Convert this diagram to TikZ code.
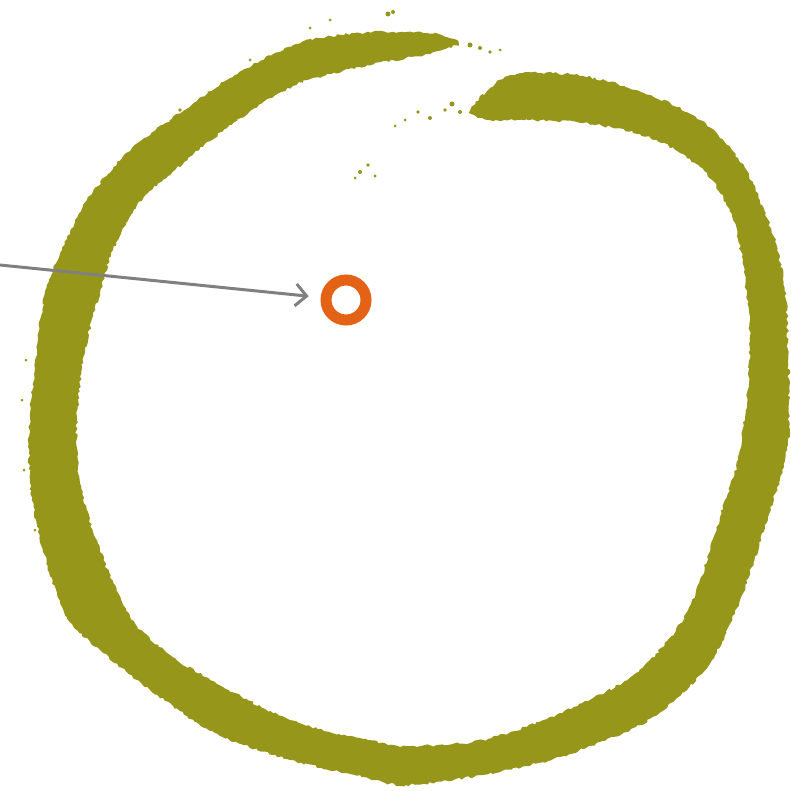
\documentclass[tikz,border=0pt]{standalone}
\usetikzlibrary{arrows.meta,decorations.pathmorphing}
\definecolor{olive}{RGB}{150,150,26}
\definecolor{orng}{RGB}{228,98,22}
\definecolor{arrgray}{RGB}{128,128,128}
\tikzset{
  brush/.style={fill=olive, draw=none, decorate, decoration={random steps, segment length=3pt, amplitude=1.3pt}},
  smallring/.style={circle, draw=orng, line width=11pt, minimum size=40pt, inner sep=0pt},
  pointer/.style={draw=arrgray, line width=3pt, -{Straight Barb[length=11pt,width=22pt,line width=3pt]}, shorten >=12pt}
}
\begin{document}
\begin{tikzpicture}[x=1pt,y=-1pt]
\useasboundingbox (0,0) rectangle (791,791);
\pgfmathsetseed{7}
% big brush ring
\path[brush] plot[smooth cycle, tension=0.55] coordinates {
 (470,112) (488,90) (517,74) (583,76) (650,95) (700,120) (738,158) (762,205)
 (778,252) (786,300) (788,350) (789,400) (787,450) (768,517) (742,595) (712,660)
 (675,700) (636,727) (560,757) (483,775) (406,785) (368,778) (290,760) (215,733)
 (150,690) (100,650) (67,617) (43,550) (30,483) (30,417) (37,350) (45,293)
 (62,250) (87,200) (128,152) (170,120) (227,80) (293,45) (360,33) (427,33) (458,42)
 (427,54) (360,67) (293,86) (227,128) (175,170) (137,205) (113,250) (100,293)
 (85,350) (77,417) (80,483) (100,550) (130,617) (170,655) (215,682) (290,720)
 (368,740) (406,746) (483,740) (560,713) (636,673) (688,610) (720,517) (740,450)
 (750,350) (744,272) (733,220) (712,180) (680,153) (640,134) (583,123) (517,120) (490,120)};
% specks
\foreach \px/\py/\pr in {470/45/2.5, 480/48/2, 490/52/1.8, 500/50/1.5,
  452/104/2.5, 460/112/2, 445/110/1.8, 430/118/2, 418/112/1.8, 405/120/1.5, 395/126/1.5,
  360/172/2, 368/165/1.8, 375/176/1.6, 355/178/1.5,
  388/14/2.5, 393/12/2, 330/20/1.5, 310/28/1.5, 250/60/1.5, 180/110/1.8,
  26/360/1.5, 22/400/1.5, 24/470/1.5, 35/530/1.5}
  \fill[olive] (\px,\py) circle[radius=\pr];
% small orange ring and pointer
\node[smallring] (o) at (346,300) {};
\coordinate (s) at (0,265);
\draw[pointer] (s) -- (o);
\end{tikzpicture}
\end{document}
